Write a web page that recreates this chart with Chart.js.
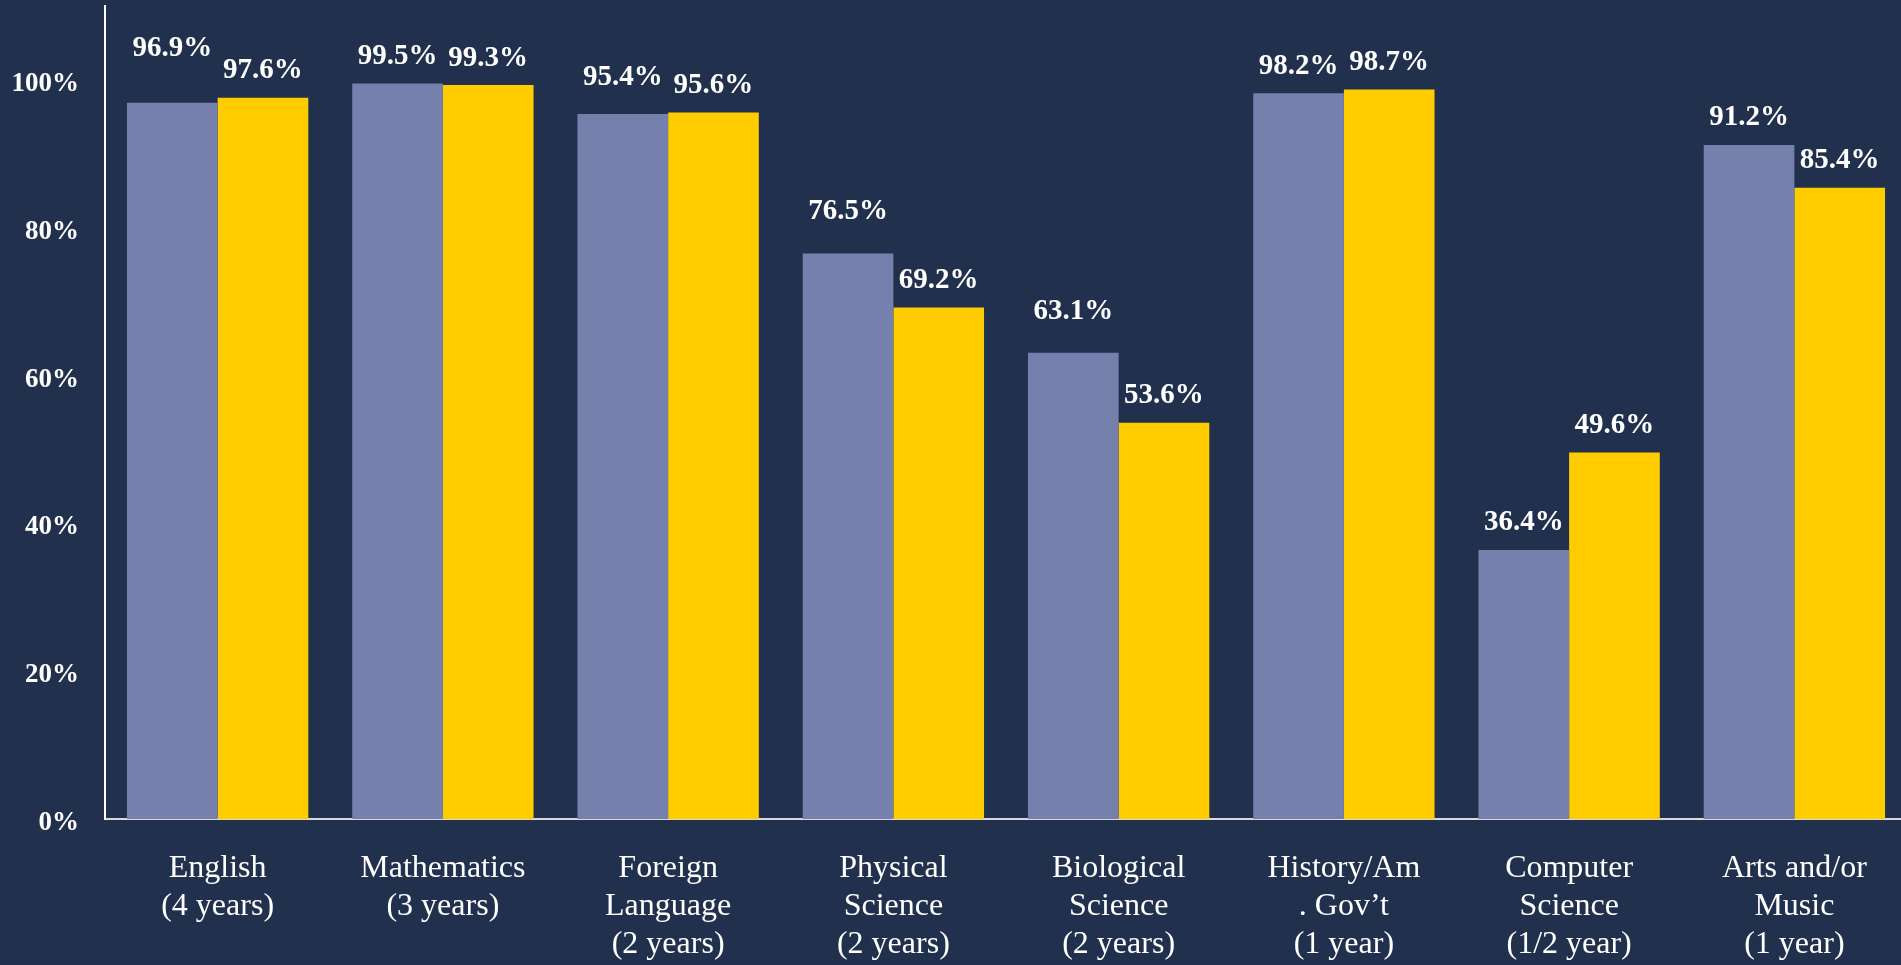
<!DOCTYPE html>
<html>
<head>
<meta charset="utf-8">
<script src="https://cdn.jsdelivr.net/npm/chart.js@4/dist/chart.umd.min.js"></script>
<style>
  html, body { margin: 0; padding: 0; background: #21314d; overflow: hidden; }
  canvas { display: block; }
</style>
</head>
<body>
<canvas id="course_chart" width="1907" height="965"></canvas>
<script>
const course_labels = [
  ["English", "(4 years)"],
  ["Mathematics", "(3 years)"],
  ["Foreign", "Language", "(2 years)"],
  ["Physical", "Science", "(2 years)"],
  ["Biological", "Science", "(2 years)"],
  ["History/Am", ". Gov\u2019t", "(1 year)"],
  ["Computer", "Science", "(1/2 year)"],
  ["Arts and/or", "Music", "(1 year)"],
];
const blue_values = [96.9, 99.5, 95.4, 76.5, 63.1, 98.2, 36.4, 91.2];
const yellow_values = [97.6, 99.3, 95.6, 69.2, 53.6, 98.7, 49.6, 85.4];
const y_ticks = [0, 20, 40, 60, 80, 100];

// some blue labels sit a bit higher in the original
const blue_label_lift = [27, 0, 9, 15, 14, 0, 0, 0];

const serif = "'Liberation Serif', 'DejaVu Serif', serif";

// values over every bar
const bar_labels = {
  id: "bar_labels",
  afterDatasetsDraw(chart) {
    const ctx = chart.ctx;
    ctx.save();
    ctx.fillStyle = "#ffffff";
    ctx.font = "bold 29px " + serif;
    ctx.textAlign = "center";
    ctx.textBaseline = "middle";
    chart.data.datasets.forEach((ds, i) => {
      chart.getDatasetMeta(i).data.forEach((bar, j) => {
        let lift = 27;
        if (i == 0) lift += blue_label_lift[j];
        ctx.fillText(ds.data[j].toFixed(1) + "%", bar.x, bar.y - lift);
      });
    });
    ctx.restore();
  },
};

const course_ctx = document.getElementById("course_chart");

const course_chart = new Chart(course_ctx, {
  type: "bar",
  data: {
    labels: course_labels,
    datasets: [
      {
        data: blue_values,
        backgroundColor: "#7580ad",
        categoryPercentage: 0.805,
        barPercentage: 1.0,
      },
      {
        data: yellow_values,
        backgroundColor: "#ffcc00",
        categoryPercentage: 0.805,
        barPercentage: 1.0,
      },
    ],
  },
  plugins: [bar_labels],
  options: {
    responsive: false,
    animation: false,
    layout: {
      padding: { left: 12, top: 6, right: 0, bottom: 0 },
    },
    plugins: {
      legend: { display: false },
      tooltip: { enabled: false },
    },
    scales: {
      x: {
        grid: { display: false, drawTicks: false },
        border: { display: true, color: "#d9d9d9", width: 2 },
        ticks: {
          color: "#ffffff",
          padding: 31,
          maxRotation: 0,
          autoSkip: false,
          font: { family: serif, size: 32, lineHeight: "38px" },
        },
        afterFit: (scale) => {
          scale.height = 146;
          scale.paddingLeft = 0;
          scale.paddingRight = 0;
        },
      },
      y: {
        min: 0,
        max: 110,
        afterBuildTicks: (scale) => {
          scale.ticks = y_ticks.map((v) => ({ value: v }));
        },
        grid: { display: false, drawTicks: false },
        border: { display: true, color: "#ffffff", width: 2 },
        ticks: {
          color: "#ffffff",
          padding: 26,
          labelOffset: 4,
          font: { family: serif, size: 27, weight: "bold" },
          callback: (v) => v + "%",
        },
        afterFit: (scale) => {
          scale.width = 93;
          scale.paddingTop = 0;
          scale.paddingBottom = 0;
        },
      },
    },
  },
});
</script>
</body>
</html>
